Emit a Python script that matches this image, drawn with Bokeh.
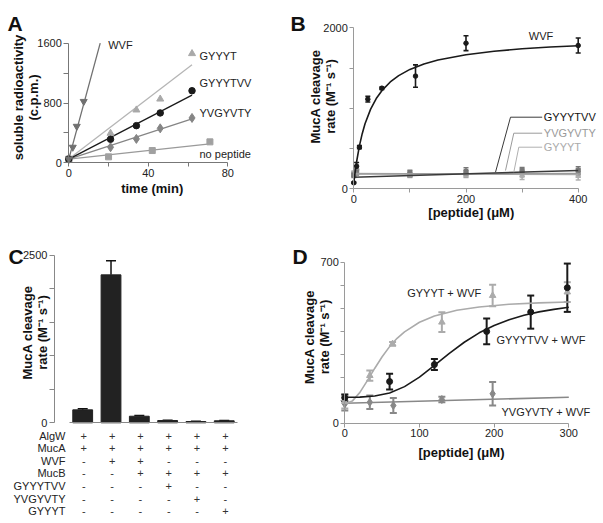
import math
from bokeh.plotting import figure
from bokeh.models import FixedTicker, Label, LabelSet, Whisker, TeeHead, ColumnDataSource
from bokeh.layouts import row, column
from bokeh.core.properties import value
from bokeh.embed import file_html
from bokeh.resources import INLINE

FONT = "Liberation Sans"

# ---------------- Panel A data ----------------
a_wvf_t = [0, 2, 4, 7.5]
a_wvf_cpm = [50, 208, 488, 821]
a_gyyyt_t = [0, 21, 34, 46, 62]
a_gyyyt_cpm = [50, 395, 707, 853, 1461]
a_gyyytvv_t = [0, 21, 34, 46, 62]
a_gyyytvv_cpm = [50, 315, 497, 667, 964]
a_yvgyvty_t = [0, 21, 34, 46, 62]
a_yvgyvty_cpm = [50, 208, 320, 461, 600]
a_nopep_t = [0, 20, 42, 71]
a_nopep_cpm = [50, 80, 164, 280]
a_fit_wvf_t = [0, 15.8]
a_fit_wvf_cpm = [50, 1600]
a_fit_gyyyt_t = [0, 62]
a_fit_gyyyt_cpm = [50, 1311]
a_fit_gyyytvv_t = [0, 62]
a_fit_gyyytvv_cpm = [50, 906]
a_fit_yvgyvty_t = [0, 62]
a_fit_yvgyvty_cpm = [50, 588]
a_fit_nopep_t = [0, 71]
a_fit_nopep_cpm = [50, 253]
a_xticks = [0, 20, 40, 60, 80]
a_xlabels = {0: "0", 40: "40", 80: "80"}
a_yticks = [0, 400, 800, 1200, 1600]
a_ylabels = {0: "0", 800: "800", 1600: "1600"}

# ---------------- Panel B data ----------------
b_x = [0, 5, 10, 25, 50, 110, 200, 400]
b_wvf = [75, 281, 517, 1113, 1250, 1400, 1809, 1780]
b_wvf_err = [10, 45, 20, 35, 15, 139, 93, 93]
b_fit_x = [0, 2, 5, 10, 15, 20, 30, 40, 50, 65, 80, 100, 125, 150, 200, 250, 300, 350, 400]
b_fit_wvf = [75, 189, 336, 533, 685, 807, 990, 1121, 1219, 1327, 1406, 1483, 1551, 1600, 1666, 1709, 1739, 1761, 1777]
b_low_x = [0, 5, 100, 200, 300, 400]
b_gyyytvv = [170, 210, 190, 215, 225, 230]
b_gyyytvv_err = [30, 35, 40, 45, 40, 45]
b_yvgyvty = [180, 200, 185, 190, 200, 195]
b_yvgyvty_err = [25, 30, 35, 40, 50, 50]
b_gyyyt = [190, 215, 175, 180, 170, 165]
b_gyyyt_err = [30, 35, 35, 40, 55, 55]
b_fit_low_x = [0, 400]
b_fit_gyyytvv = [145, 227]
b_fit_yvgyvty = [185, 190]
b_fit_gyyyt = [190, 178]
b_xticks = [0, 100, 200, 300, 400]
b_xlabels = {0: "0", 200: "200", 400: "400"}
b_yticks = [0, 500, 1000, 1500, 2000]
b_ylabels = {0: "0", 2000: "2000"}

# ---------------- Panel C data ----------------
c_conditions = [1, 2, 3, 4, 5, 6]
c_rate = [193, 2204, 98, 34, 19, 30]
c_err = [18, 210, 10, 5, 3, 4]
c_rows = ["AlgW", "MucA", "WVF", "MucB", "GYYYTVV", "YVGYVTY", "GYYYT"]
c_signs = [
    ["+", "+", "+", "+", "+", "+"],
    ["+", "+", "+", "+", "+", "+"],
    ["-", "+", "+", "-", "-", "-"],
    ["-", "-", "+", "+", "+", "+"],
    ["-", "-", "-", "+", "-", "-"],
    ["-", "-", "-", "-", "+", "-"],
    ["-", "-", "-", "-", "-", "+"],
]
c_yticks = [0, 500, 1000, 1500, 2000, 2500]
c_ylabels = {0: "0", 2500: "2500"}

# ---------------- Panel D data ----------------
d_gyyyt_x = [0, 33.5, 64, 130, 198, 298]
d_gyyyt = [94, 207, 345, 439, 555, 570]
d_gyyyt_err = [30, 22, 8, 43, 47, 43]
d_gyyytvv_x = [0, 60, 120, 190, 249, 298]
d_gyyytvv = [110, 181, 255, 399, 483, 589]
d_gyyytvv_err = [15, 34, 24, 56, 72, 105]
d_yvgyvty_x = [0, 33.5, 65, 130, 198]
d_yvgyvty = [84, 91, 77, 103, 128]
d_yvgyvty_err = [29, 29, 33, 12, 51]
d_fit_gyyyt_x = [0, 10, 20, 30, 40, 50, 60, 70, 80, 100, 120, 150, 180, 220, 260, 300]
d_fit_gyyyt = [84, 96, 133, 184, 238, 289, 333, 369, 397, 439, 466, 491, 505, 517, 523, 527]
d_fit_gyyytvv_x = [0, 20, 40, 60, 80, 100, 120, 140, 160, 180, 200, 220, 240, 260, 280, 300]
d_fit_gyyytvv = [113, 113.5, 118, 131.5, 159, 200.5, 251, 304, 352, 393, 425, 450, 469.5, 484, 495, 504]
d_fit_yvgyvty_x = [0, 300]
d_fit_yvgyvty = [87, 113]
d_xticks = [0, 100, 200, 300]
d_xlabels = {0: "0", 100: "100", 200: "200", 300: "300"}
d_yticks = [0, 100, 200, 300, 400, 500, 600, 700]
d_ylabels = {0: "0", 700: "700"}

YLABEL_RATE = "MucA cleavage\nrate (M\u207b\u00b9 s\u207b\u00b9)"
XLABEL_PEP = "[peptide] (\u03bcM)"


class Geo:
    """Canvas placed at page (ox, oy), size w x h; whole canvas is the plot frame.
    Data 0 on x sits at page x0px (sx px per unit), data 0 on y at page y0px (sy px per unit)."""
    def __init__(self, ox, oy, w, h, x0px, sx, y0px, sy):
        self.ox, self.oy, self.w, self.h = ox, oy, w, h
        self.x0px, self.sx, self.y0px, self.sy = x0px, sx, y0px, sy
        self.xr = ((ox - x0px) / sx, (ox + w - x0px) / sx)
        self.yr = ((y0px - (oy + h)) / sy, (y0px - oy) / sy)

    def fig(self):
        p = figure(width=self.w, height=self.h, x_range=self.xr, y_range=self.yr,
                   toolbar_location=None, output_backend="svg",
                   min_border_left=0, min_border_right=0, min_border_top=0, min_border_bottom=0)
        p.outline_line_color = None
        p.xgrid.visible = False
        p.ygrid.visible = False
        p.background_fill_color = "white"
        p.border_fill_color = "white"
        return p

    def dx(self, px):
        return (px - self.x0px) / self.sx

    def dy(self, py):
        return (self.y0px - py) / self.sy


def style_axis(ax, color, ticks, labels, bounds, tick_out=4):
    ax.fixed_location = 0
    ax.ticker = FixedTicker(ticks=ticks, minor_ticks=[])
    ax.major_label_overrides = {t: labels.get(t, "") for t in ticks}
    ax.bounds = bounds
    ax.axis_line_color = color
    ax.axis_line_width = 1
    ax.major_tick_line_color = color
    ax.major_tick_out = tick_out
    ax.major_tick_in = 0
    ax.minor_tick_line_color = None
    ax.major_label_text_font = FONT
    ax.major_label_text_font_size = "11px"
    ax.major_label_text_color = "#222222"
    ax.major_label_standoff = 2


def title_label(p, g, text, px, py, angle=0.0):
    p.add_layout(Label(x=g.dx(px), y=g.dy(py), text=text, angle=angle,
                       text_align="center", text_baseline="middle", text_font=FONT,
                       text_font_size="13px", text_font_style="bold", text_color="#111111",
                       text_line_height=1.0))


def letter(p, g, text, px, py):
    p.add_layout(Label(x=g.dx(px), y=g.dy(py), text=text, text_align="left",
                       text_baseline="alphabetic", text_font=FONT, text_font_size="21px",
                       text_font_style="bold", text_color="#111111"))


def tag(p, g, text, px, py, color="#222222", align="left"):
    p.add_layout(Label(x=g.dx(px), y=g.dy(py), text=text, text_align=align,
                       text_baseline="middle", text_font=FONT, text_font_size="11px",
                       text_color=color))


def whiskers(p, xs, ys, errs, color, lw, head, both=True):
    src = ColumnDataSource(dict(x=xs, lo=[y - e for y, e in zip(ys, errs)] if both else list(ys),
                                hi=[y + e for y, e in zip(ys, errs)]))
    w = Whisker(source=src, base="x", lower="lo", upper="hi", line_color=color, line_width=lw,
                upper_head=TeeHead(size=head, line_color=color, line_width=lw),
                lower_head=TeeHead(size=head, line_color=color, line_width=lw) if both else None)
    p.add_layout(w)


# ================= Panel A =================
gA = Geo(0, 0, 290, 235, 68.3, 159 / 80, 162.3, 119.6 / 1600)
pa = gA.fig()
style_axis(pa.xaxis[0], "#777777", a_xticks, a_xlabels, (0, 80), 4)
style_axis(pa.yaxis[0], "#777777", a_yticks, a_ylabels, (0, 1600), 5)
title_label(pa, gA, "time (min)", 151.7, 188)
title_label(pa, gA, "soluble radioactivity\n(c.p.m.)", 25, 97, math.pi / 2)

cA = {"wvf": "#707070", "gyyyt": "#a9a9a9", "gyyytvv": "#1a1a1a", "yvg": "#858585", "nop": "#a0a0a0"}
pa.line(a_fit_nopep_t, a_fit_nopep_cpm, line_color="#9a9a9a", line_width=1.3)
pa.line(a_fit_yvgyvty_t, a_fit_yvgyvty_cpm, line_color=cA["yvg"], line_width=1.3)
pa.line(a_fit_gyyyt_t, a_fit_gyyyt_cpm, line_color="#b5b5b5", line_width=1.3)
pa.line(a_fit_gyyytvv_t, a_fit_gyyytvv_cpm, line_color=cA["gyyytvv"], line_width=1.3)
pa.line(a_fit_wvf_t, a_fit_wvf_cpm, line_color=cA["wvf"], line_width=1.3)
pa.scatter(a_nopep_t, a_nopep_cpm, marker="square", size=6, color=cA["nop"])
pa.scatter(a_yvgyvty_t, a_yvgyvty_cpm, marker="diamond", size=9, color=cA["yvg"])
pa.scatter(a_gyyyt_t, a_gyyyt_cpm, marker="triangle", size=7, color=cA["gyyyt"])
pa.scatter(a_gyyytvv_t, a_gyyytvv_cpm, marker="circle", size=6.5, color=cA["gyyytvv"])
pa.scatter(a_wvf_t, a_wvf_cpm, marker="inverted_triangle", size=7, color=cA["wvf"])
tag(pa, gA, "WVF", 107.7, 44.5)
tag(pa, gA, "GYYYT", 199, 55)
tag(pa, gA, "GYYYTVV", 199, 82.7)
tag(pa, gA, "YVGYVTY", 199, 112)
tag(pa, gA, "no peptide", 199, 153.3)
letter(pa, gA, "A", 7, 23)

# ================= Panel B =================
gB = Geo(290, 0, 310, 235, 353.3, 224.4 / 400, 188.3, 161 / 2000)
pb = gB.fig()
style_axis(pb.xaxis[0], "#9a9a9a", b_xticks, b_xlabels, (0, 400), 4)
style_axis(pb.yaxis[0], "#9a9a9a", b_yticks, b_ylabels, (0, 2000), 4)
title_label(pb, gB, XLABEL_PEP, 470.8, 212)
title_label(pb, gB, YLABEL_RATE, 322.5, 96, math.pi / 2)

cB = {"gyyytvv": "#3a3a3a", "yvg": "#9a9a9a", "gyyyt": "#b0b0b0", "wvf": "#1a1a1a"}
whiskers(pb, b_low_x, b_gyyyt, b_gyyyt_err, cB["gyyyt"], 1.5, 5)
whiskers(pb, b_low_x, b_yvgyvty, b_yvgyvty_err, cB["yvg"], 1.5, 5)
whiskers(pb, b_low_x, b_gyyytvv, b_gyyytvv_err, "#777777", 1.5, 5)
pb.scatter(b_low_x, b_gyyyt, marker="square", size=4, color=cB["gyyyt"])
pb.scatter(b_low_x, b_yvgyvty, marker="square", size=4, color=cB["yvg"])
pb.scatter(b_low_x, b_gyyytvv, marker="square", size=4, color="#777777")
pb.line(b_fit_low_x, b_fit_gyyyt, line_color=cB["gyyyt"], line_width=1.5)
pb.line(b_fit_low_x, b_fit_yvgyvty, line_color=cB["yvg"], line_width=1.5)
pb.line(b_fit_low_x, b_fit_gyyytvv, line_color=cB["gyyytvv"], line_width=1.5)
pb.line(b_fit_x, b_fit_wvf, line_color=cB["wvf"], line_width=1.6)
whiskers(pb, b_x, b_wvf, b_wvf_err, cB["wvf"], 1.6, 5)
pb.scatter(b_x, b_wvf, marker="circle", size=4.5, color=cB["wvf"])

leaders = [("GYYYTVV", cB["gyyytvv"], "#111111", [(495, 171.7), (510, 116.7), (541.7, 116.7)]),
           ("YVGYVTY", cB["yvg"], "#999999", [(505, 170), (513.3, 132.7), (541.7, 132.7)]),
           ("GYYYT", cB["gyyyt"], "#aaaaaa", [(513.3, 171.7), (518.3, 146.7), (541.7, 146.7)])]
for name, lc, tc, pts in leaders:
    pb.line([gB.dx(px) for px, _ in pts], [gB.dy(py) for _, py in pts], line_color=lc, line_width=1)
    tag(pb, gB, name, 543.3, pts[-1][1], color=tc)
tag(pb, gB, "WVF", 528.3, 35.7)
letter(pb, gB, "B", 290, 23)

# ================= Panel C =================
gC = Geo(0, 235, 290, 285, 82.2 - 28.31, 28.31, 422.3, 167.8 / 2500)
pc = gC.fig()
style_axis(pc.yaxis[0], "#888888", c_yticks, c_ylabels, (0, 2500), 5)
style_axis(pc.xaxis[0], "#888888", [], {}, (gC.dx(69), gC.dx(237.3)), 0)
pc.xaxis[0].major_label_text_font_size = "0px"
title_label(pc, gC, YLABEL_RATE, 34.5, 332, math.pi / 2)
pc.vbar(x=c_conditions, top=c_rate, bottom=0, width=0.7, color="#222222")
whiskers(pc, c_conditions, c_rate, c_err, "#111111", 1.5, 10, both=False)

row_y = [gC.dy(435 + 12.6 * i) for i in range(len(c_rows))]
rsrc = ColumnDataSource(dict(x=[gC.dx(65)] * len(c_rows), y=row_y, text=c_rows))
pc.add_layout(LabelSet(x="x", y="y", text="text", source=rsrc, text_align="right",
                       text_baseline="middle", text_font=value(FONT), text_font_size="11px",
                       text_color="#222222"))
cx, cy, ct = [], [], []
for i, signs in enumerate(c_signs):
    for j, s in enumerate(signs):
        cx.append(c_conditions[j] + 0.04)
        cy.append(row_y[i])
        ct.append(s)
csrc = ColumnDataSource(dict(x=cx, y=cy, text=ct))
pc.add_layout(LabelSet(x="x", y="y", text="text", source=csrc, text_align="center",
                       text_baseline="middle", text_font=value(FONT), text_font_size="11px",
                       text_color="#333333"))
letter(pc, gC, "C", 8, 256)

# ================= Panel D =================
gD = Geo(290, 235, 310, 285, 344.3, 224 / 300, 422.7, 161 / 700)
pd = gD.fig()
style_axis(pd.xaxis[0], "#9a9a9a", d_xticks, d_xlabels, (0, 300), 4)
style_axis(pd.yaxis[0], "#9a9a9a", d_yticks, d_ylabels, (0, 700), 4)
title_label(pd, gD, XLABEL_PEP, 461, 451.7)
title_label(pd, gD, YLABEL_RATE, 316, 336.5, math.pi / 2)

cD = {"gyyyt": "#ababab", "gyyytvv": "#1a1a1a", "yvg": "#888888"}
pd.line(d_fit_yvgyvty_x, d_fit_yvgyvty, line_color=cD["yvg"], line_width=1.6)
pd.line(d_fit_gyyyt_x, d_fit_gyyyt, line_color=cD["gyyyt"], line_width=1.6)
pd.line(d_fit_gyyytvv_x, d_fit_gyyytvv, line_color=cD["gyyytvv"], line_width=1.6)
whiskers(pd, d_yvgyvty_x, d_yvgyvty, d_yvgyvty_err, cD["yvg"], 2, 7)
whiskers(pd, d_gyyyt_x, d_gyyyt, d_gyyyt_err, cD["gyyyt"], 2, 7)
whiskers(pd, d_gyyytvv_x, d_gyyytvv, d_gyyytvv_err, cD["gyyytvv"], 2, 7)
pd.scatter(d_yvgyvty_x, d_yvgyvty, marker="diamond", size=8, color=cD["yvg"])
pd.scatter(d_gyyyt_x, d_gyyyt, marker="triangle", size=6.5, color=cD["gyyyt"])
pd.scatter(d_gyyytvv_x, d_gyyytvv, marker="circle", size=6, color=cD["gyyytvv"])
tag(pd, gD, "GYYYT + WVF", 406.7, 292.3)
tag(pd, gD, "GYYYTVV + WVF", 496, 339)
tag(pd, gD, "YVGYVTY + WVF", 501, 411.7)
letter(pd, gD, "D", 292, 256)

layout = column(row(pa, pb, spacing=0), row(pc, pd, spacing=0), spacing=0)
open("out.html", "w").write(file_html(layout, INLINE))
